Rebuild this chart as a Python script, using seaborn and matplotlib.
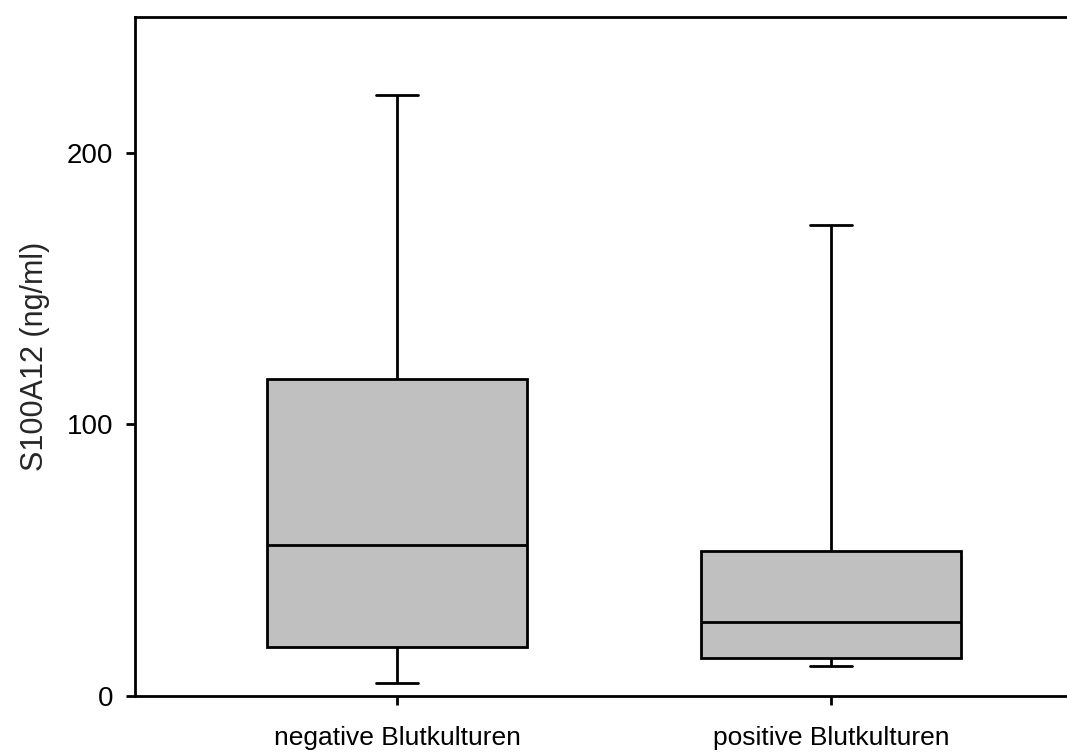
import matplotlib
matplotlib.use("Agg")
import matplotlib.pyplot as plt
import seaborn as sns
import pandas as pd

# Five-number summaries (min, Q1, median, Q3, max) per group
groups = ["negative Blutkulturen", "positive Blutkulturen"]
neg_values = [4.7, 18.2, 55.6, 116.8, 221.4]
pos_values = [11.0, 13.9, 27.4, 53.5, 173.5]
y_ticks = [0, 100, 200]
y_label = "S100A12 (ng/ml)"

df = pd.DataFrame({
    "group": [groups[0]] * len(neg_values) + [groups[1]] * len(pos_values),
    "value": neg_values + pos_values,
})

sns.set_style("ticks")
plt.rcParams["font.family"] = ["Liberation Sans", "DejaVu Sans"]

fig = plt.figure(figsize=(10.67, 7.56), dpi=100)
ax = fig.add_axes([135 / 1067, 60 / 756, 1 - 135 / 1067 + 0.01, (696 - 17) / 756])

lw = 2.0
sns.boxplot(
    data=df, x="group", y="value", order=groups, ax=ax,
    whis=(0, 100), width=0.6, color="#c0c0c0", saturation=1,
    linecolor="black", linewidth=lw, showfliers=False,
    capwidths=0.096,
)
for p in ax.patches:
    p.set_facecolor("#c0c0c0")
    p.set_edgecolor("black")

ax.set_ylim(0, 250)
ax.set_xlim(-0.604, 1.569)
ax.set_yticks(y_ticks)
ax.set_xlabel("")
ax.set_ylabel(y_label, fontsize=22, labelpad=12)

for side in ["left", "bottom", "top"]:
    ax.spines[side].set_visible(True)
    ax.spines[side].set_linewidth(lw)
    ax.spines[side].set_color("black")
ax.spines["right"].set_visible(False)

ax.tick_params(axis="y", direction="out", length=6.5, width=lw, labelsize=20, pad=9, colors="black")
ax.tick_params(axis="x", direction="out", length=6.5, width=lw, labelsize=19, pad=15, colors="black")

fig.savefig("out.png", dpi=100)
